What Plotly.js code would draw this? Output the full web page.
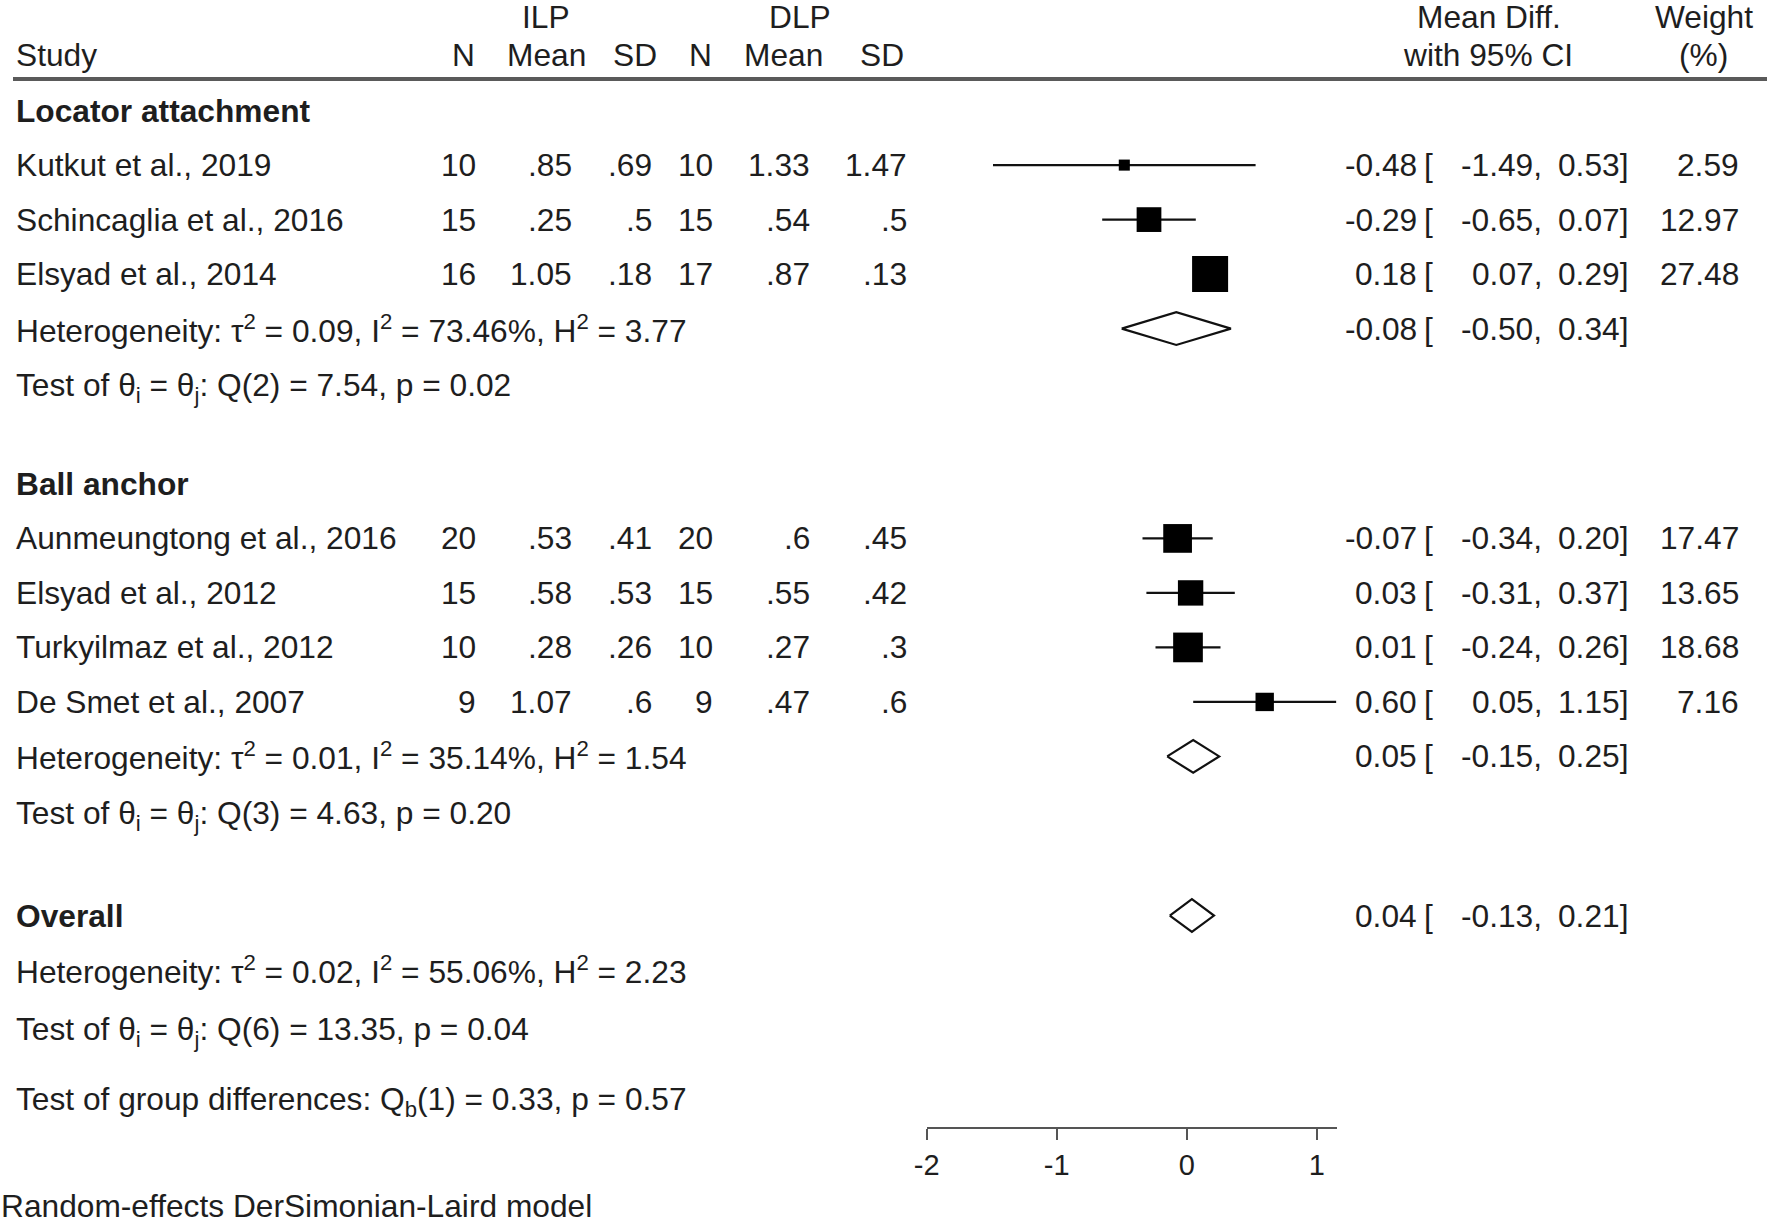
<!DOCTYPE html>
<html>
<head>
<meta charset="utf-8">
<script src="https://cdn.plot.ly/plotly-3.0.1.min.js"></script>
<style>html,body{margin:0;padding:0;background:#fff;}#chart{width:1770px;height:1225px;}</style>
</head>
<body>
<div id="chart"></div>
<script>
// ---------- data ----------
const studies = ["Kutkut et al., 2019", "Schincaglia et al., 2016", "Elsyad et al., 2014",
                 "Aunmeungtong et al., 2016", "Elsyad et al., 2012", "Turkyilmaz et al., 2012", "De Smet et al., 2007"];
const studyGroup = [0, 0, 0, 1, 1, 1, 1];
const n1    = [10, 15, 16, 20, 15, 10, 9];
const mean1 = [0.85, 0.25, 1.05, 0.53, 0.58, 0.28, 1.07];
const sd1   = [0.69, 0.5, 0.18, 0.41, 0.53, 0.26, 0.6];
const n2    = [10, 15, 17, 20, 15, 10, 9];
const mean2 = [1.33, 0.54, 0.87, 0.6, 0.55, 0.27, 0.47];
const sd2   = [1.47, 0.5, 0.13, 0.45, 0.42, 0.3, 0.6];
const md    = [-0.48, -0.29, 0.18, -0.07, 0.03, 0.01, 0.60];
const ciLo  = [-1.49, -0.65, 0.07, -0.34, -0.31, -0.24, 0.05];
const ciHi  = [0.53, 0.07, 0.29, 0.20, 0.37, 0.26, 1.15];
const weight = [2.59, 12.97, 27.48, 17.47, 13.65, 18.68, 7.16];

const groups    = ["Locator attachment", "Ball anchor"];
const groupMd   = [-0.08, 0.05];
const groupLo   = [-0.50, -0.15];
const groupHi   = [0.34, 0.25];
const groupTau2 = [0.09, 0.01];
const groupI2   = [73.46, 35.14];
const groupH2   = [3.77, 1.54];
const groupQ    = [7.54, 4.63];
const groupDf   = [2, 3];
const groupP    = [0.02, 0.20];

const overallMd = 0.04, overallLo = -0.13, overallHi = 0.21;
const overallTau2 = 0.02, overallI2 = 55.06, overallH2 = 2.23;
const overallQ = 13.35, overallDf = 6, overallP = 0.04;
const groupDiffQ = 0.33, groupDiffDf = 1, groupDiffP = 0.57;

const axisTicks = [-2, -1, 0, 1];
const footnote = "Random-effects DerSimonian-Laird model";

// ---------- layout helpers ----------
const W = 1770, H = 1225;
const FONT = "Liberation Sans, Arial, Helvetica, sans-serif";
const FS = 31.7;
const TXT = "#1e1e1e";
const ROW0 = 110.6, ROWH = 54.5;           // pixel of row 0, pixels per row
const yTop = (0 - ROW0) / ROWH, yBot = (H - ROW0) / ROWH;
const AX_L = 926.7, AX_R = 1336.7;         // forest axis pixel extent
const AX_Y = 1127.7;

const fmtRaw = v => String(v).replace(/^0\./, ".");
const f2 = v => v.toFixed(2);

const annotations = [];
function ann(text, px, y, anchor, extra) {
  annotations.push(Object.assign({
    text: text, x: px / W, xref: "paper", y: y, yref: "y",
    xanchor: anchor, yanchor: "middle", showarrow: false, borderpad: 0,
    font: {family: FONT, size: FS, color: TXT}
  }, extra || {}));
}
function ciCols(y, est, lo, hi, w) {
  ann(f2(est), 1418, y, "right");
  ann("[", 1423, y, "left");
  ann(f2(lo) + ",", 1543, y, "right");
  ann(f2(hi) + "]", 1629, y, "right");
  if (w !== null) ann(f2(w), 1740, y, "right");
}
function hetText(t, i, h) {
  return "Heterogeneity: τ<sup>2</sup> = " + f2(t) + ", I<sup>2</sup> = " + f2(i) + "%, H<sup>2</sup> = " + f2(h);
}
function testText(q, df, p) {
  return "Test of θ<sub>i</sub> = θ<sub>j</sub>: Q(" + df + ") = " + f2(q) + ", p = " + f2(p);
}
const SUBSHIFT = {yshift: -4.5};

// header
ann("ILP", 546, (17 - ROW0) / ROWH, "center");
ann("DLP", 800, (17 - ROW0) / ROWH, "center");
ann("Mean Diff.", 1489, (17 - ROW0) / ROWH, "center");
ann("Weight", 1704, (17 - ROW0) / ROWH, "center");
const hy = (55.3 - ROW0) / ROWH;
ann("Study", 15, hy, "left");
ann("N", 463, hy, "center");
ann("Mean", 546, hy, "center");
ann("SD", 635, hy, "center");
ann("N", 700, hy, "center");
ann("Mean", 783, hy, "center");
ann("SD", 882, hy, "center");
ann("with 95% CI", 1488, hy, "center");
ann("(%)", 1703, hy, "center");

// ---------- rows ----------
const traces = [];
const sqX = [], sqY = [], sqS = [], errP = [], errM = [];
let y = 0;
groups.forEach((g, gi) => {
  if (gi > 0) y += 1.85;
  ann("<b>" + g + "</b>", 15, y, "left");
  studies.forEach((s, i) => {
    if (studyGroup[i] !== gi) return;
    y += 1;
    ann(s, 15, y, "left");
    ann(String(n1[i]), 477, y, "right");
    ann(fmtRaw(mean1[i]), 573, y, "right");
    ann(fmtRaw(sd1[i]), 653, y, "right");
    ann(String(n2[i]), 714, y, "right");
    ann(fmtRaw(mean2[i]), 811, y, "right");
    ann(fmtRaw(sd2[i]), 908, y, "right");
    ciCols(y, md[i], ciLo[i], ciHi[i], weight[i]);
    sqX.push(md[i]); sqY.push(y); sqS.push(6.87 * Math.sqrt(weight[i]));
    errP.push(ciHi[i] - md[i]); errM.push(md[i] - ciLo[i]);
  });
  y += 1;
  ann(hetText(groupTau2[gi], groupI2[gi], groupH2[gi]), 15, y, "left");
  ciCols(y, groupMd[gi], groupLo[gi], groupHi[gi], null);
  traces.push({x: [groupLo[gi], groupMd[gi], groupHi[gi], groupMd[gi], groupLo[gi]],
               y: [y, y - 0.3, y, y + 0.3, y], mode: "lines", fill: "toself",
               fillcolor: "#ffffff", line: {color: "#111", width: 2.2}, hoverinfo: "skip"});
  y += 1;
  ann(testText(groupQ[gi], groupDf[gi], groupP[gi]), 15, y, "left", SUBSHIFT);
});
y += 1.92;
ann("<b>Overall</b>", 15, y, "left");
ciCols(y, overallMd, overallLo, overallHi, null);
traces.push({x: [overallLo, overallMd, overallHi, overallMd, overallLo],
             y: [y, y - 0.3, y, y + 0.3, y], mode: "lines", fill: "toself",
             fillcolor: "#ffffff", line: {color: "#111", width: 2.2}, hoverinfo: "skip"});
y += 1;
ann(hetText(overallTau2, overallI2, overallH2), 15, y, "left");
y += 1.04;
ann(testText(overallQ, overallDf, overallP), 15, y, "left", SUBSHIFT);
y += 1.28;
ann("Test of group differences: Q<sub>b</sub>(" + groupDiffDf + ") = " + f2(groupDiffQ) + ", p = " + f2(groupDiffP), 15, y, "left", SUBSHIFT);
ann(footnote, 0, (1206 - ROW0) / ROWH, "left");

traces.push({x: sqX, y: sqY, mode: "markers", cliponaxis: false,
             marker: {symbol: "square", size: sqS, color: "#000", opacity: 1, line: {width: 0}},
             error_x: {type: "data", symmetric: false, array: errP, arrayminus: errM,
                       width: 0, thickness: 2.2, color: "#111"},
             hoverinfo: "skip"});

const layout = {
  width: W, height: H,
  margin: {l: 0, r: 0, t: 0, b: 0, pad: 0},
  paper_bgcolor: "#fff", plot_bgcolor: "rgba(0,0,0,0)",
  showlegend: false,
  xaxis: {
    domain: [AX_L / W, AX_R / W], range: [-2, (AX_R - AX_L) / 130 - 2],
    anchor: "free", position: 1 - AX_Y / H,
    showline: true, linecolor: "#555", linewidth: 2,
    ticks: "outside", ticklen: 11, tickwidth: 2, tickcolor: "#555",
    tickvals: axisTicks, ticktext: axisTicks.map(String),
    showgrid: false, zeroline: false, fixedrange: true,
    tickfont: {family: FONT, size: 29, color: TXT}
  },
  yaxis: {domain: [0, 1], range: [yBot, yTop], visible: false, showgrid: false, zeroline: false, fixedrange: true},
  shapes: [{type: "line", xref: "paper", yref: "y", x0: 13 / W, x1: 1767 / W,
            y0: (79 - ROW0) / ROWH, y1: (79 - ROW0) / ROWH, line: {color: "#5a5a5a", width: 4}}],
  annotations: annotations
};

Plotly.newPlot("chart", traces, layout, {displayModeBar: false, staticPlot: true});
</script>
</body>
</html>
